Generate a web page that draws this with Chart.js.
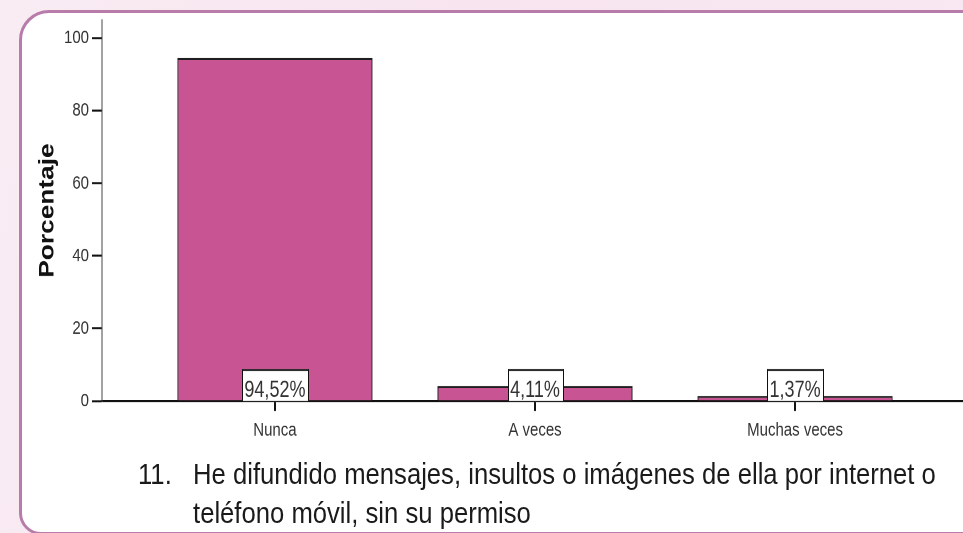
<!DOCTYPE html>
<html>
<head>
<meta charset="utf-8">
<script src="https://cdn.jsdelivr.net/npm/chart.js@4/dist/chart.umd.min.js"></script>
<style>
  html, body { margin: 0; padding: 0; width: 963px; height: 533px; overflow: hidden; }
  body { background: linear-gradient(100deg, #f9ecf3 0%, #f7e4ee 45%, #f8e8f1 100%); position: relative; font-family: 'Liberation Sans', Arial, sans-serif; }
  #panel { position: absolute; left: 19px; top: 10px; width: 1000px; height: 519px; background: #fff; border: 3px solid #b87cab; border-radius: 30px 0 0 22px; }
  #wrap { position: absolute; left: 0; top: 0; width: 980px; height: 427px; transform: scaleY(1.25); transform-origin: 0 0; }
  .captxt { position: absolute; top: 454px; font-size: 30px; line-height: 39px; color: #1a1a1a; white-space: nowrap; transform: scaleX(0.855); transform-origin: 0 0; }
  #num { left: 138px; }
  #cap { left: 193px; }
</style>
</head>
<body>
<div id="panel"></div>
<div id="wrap"><canvas id="c" width="980" height="427"></canvas></div>
<div id="num" class="captxt">11.</div>
<div id="cap" class="captxt">He difundido mensajes, insultos o imágenes de ella por internet o<br>teléfono móvil, sin su permiso</div>
<script>
const categories = ['Nunca', 'A veces', 'Muchas veces'];
const percentages = [94.52, 4.11, 1.37];
const valueLabels = ['94,52%', '4,11%', '1,37%'];
const yTickValues = [0, 20, 40, 60, 80, 100];
const yAxisTitle = 'Porcentaje';

const FONT = "'Liberation Sans', Arial, sans-serif";

const valueBoxes = {
  id: 'valueBoxes',
  afterDatasetsDraw(chart) {
    const ctx = chart.ctx;
    const meta = chart.getDatasetMeta(0);
    const base = chart.scales.y.getPixelForValue(0);
    ctx.save();
    ctx.font = '18px ' + FONT;
    meta.data.forEach((bar, i) => {
      const txt = valueLabels[i];
      const w = Math.round(ctx.measureText(txt).width + 5);
      const h = 25.6;
      const x0 = Math.round(bar.x - w / 2) + 0.5;
      const y0 = base - h;
      ctx.fillStyle = '#ffffff';
      ctx.fillRect(x0, y0, w, h);
      ctx.strokeStyle = '#111';
      ctx.lineWidth = 1.6;
      ctx.beginPath();
      ctx.moveTo(x0 - 0.5, y0 + 0.8); ctx.lineTo(x0 + w + 0.5, y0 + 0.8);
      ctx.stroke();
      ctx.lineWidth = 1;
      ctx.beginPath();
      ctx.moveTo(x0, y0); ctx.lineTo(x0, base);
      ctx.moveTo(x0 + w, y0); ctx.lineTo(x0 + w, base);
      ctx.stroke();
      ctx.fillStyle = '#333';
      ctx.textAlign = 'center';
      ctx.textBaseline = 'alphabetic';
      ctx.fillText(txt, bar.x, base - 3.2);
    });
    ctx.restore();
  }
};

new Chart(document.getElementById('c'), {
  type: 'bar',
  data: {
    datasets: [{
      data: percentages.map((v, i) => ({ x: i, y: v })),
      backgroundColor: '#c85494',
      borderColor: '#1e1e1e',
      borderWidth: { top: 1.6, left: 1, right: 1, bottom: 0 },
      borderSkipped: false,
      categoryPercentage: 1,
      barPercentage: 0.75
    }]
  },
  options: {
    responsive: false,
    devicePixelRatio: 2,
    animation: false,
    events: [],
    layout: { padding: { left: 0, top: 16, right: 12, bottom: 74.2 } },
    plugins: { legend: { display: false }, tooltip: { enabled: false } },
    scales: {
      x: {
        type: 'linear',
        offset: false,
        min: -0.665,
        max: 2.665,
        afterBuildTicks: s => { s.ticks = categories.map((c, i) => ({ value: i })); },
        afterFit: s => { s.height = 32; },
        ticks: {
          callback: v => categories[v],
          font: { family: FONT, size: 15 },
          color: '#333',
          padding: 6.5,
          maxRotation: 0,
          autoSkip: false
        },
        grid: { offset: false, drawOnChartArea: false, drawTicks: true, tickLength: 8, tickColor: '#111', tickWidth: 2 },
        border: { display: true, color: '#111', width: 1.6 }
      },
      y: {
        min: 0,
        max: 105,
        afterBuildTicks: s => { s.ticks = yTickValues.map(v => ({ value: v })); },
        afterFit: s => { s.width = 102; },
        ticks: {
          font: { family: FONT, size: 15 },
          color: '#333',
          padding: 3
        },
        grid: { drawOnChartArea: false, drawTicks: true, tickLength: 10, tickColor: '#111', tickWidth: 1.6 },
        border: { display: true, color: '#444', width: 1 },
        title: {
          display: true,
          text: yAxisTitle,
          font: { family: FONT, size: 21, weight: 'bold' },
          color: '#111',
          padding: { top: 35, bottom: 0 }
        }
      }
    }
  },
  plugins: [valueBoxes]
});
</script>
</body>
</html>
